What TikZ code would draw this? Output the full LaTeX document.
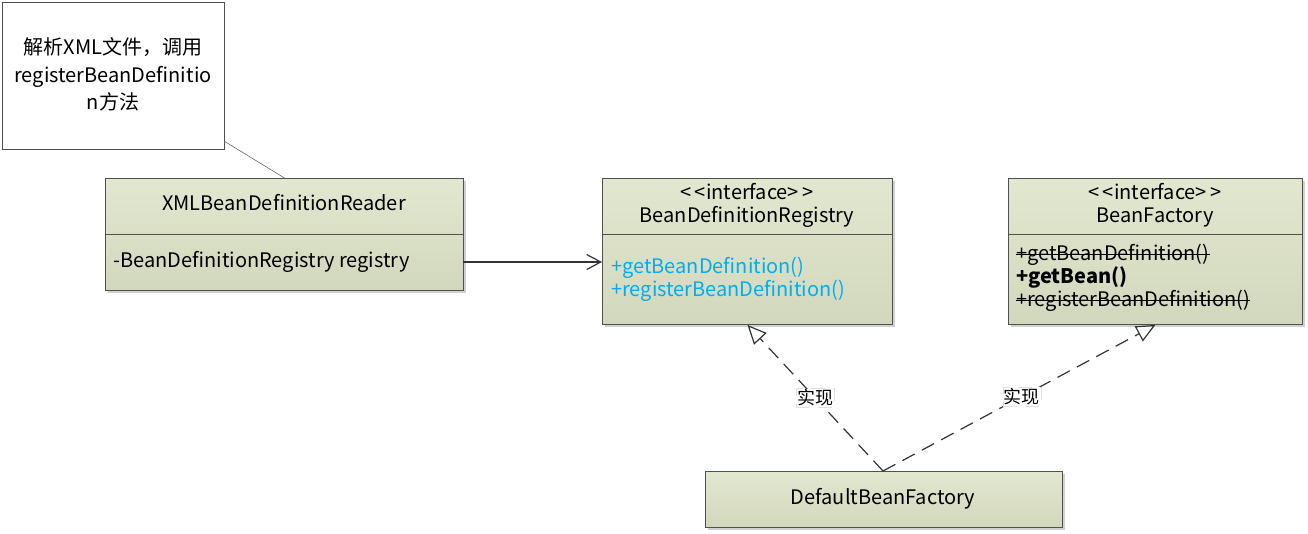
\documentclass[tikz,border=0pt]{standalone}
\usepackage{fontspec}
\setmainfont{Noto Sans CJK SC}
\usetikzlibrary{arrows.meta,shadows}
\definecolor{clsfill}{RGB}{221,227,199}
\definecolor{clsline}{RGB}{80,80,80}
\definecolor{methcyan}{RGB}{0,174,239}
\newcommand{\stereo}{<\kern3pt<interface>\kern3pt>}
\tikzset{
  cls/.style={draw=clsline, line width=0.9pt, anchor=north west, inner sep=0pt,
    top color=clsfill!85!white, bottom color=clsfill!95!black,
    drop shadow={shadow xshift=2.5pt, shadow yshift=-2.5pt, fill=black!30, opacity=0.6}},
  notebox/.style={draw=clsline, line width=0.8pt, fill=white, anchor=north west, inner sep=0pt},
  txt/.style={font=\fontsize{20}{23}\selectfont, inner sep=0pt, anchor=base},
  ltxt/.style={font=\fontsize{20}{23}\selectfont, inner sep=0pt, anchor=base west},
  divider/.style={draw=clsline, line width=0.9pt},
  strike/.style={draw=black, line width=0.9pt},
  lbl/.style={font=\fontsize{18}{20}\selectfont, fill=white, draw=black!12, line width=0.5pt, inner sep=1pt},
  realize/.style={draw=black!80, line width=1.2pt, dash pattern=on 14pt off 8pt,
    -{Triangle[open, length=19pt, width=17pt, line width=1.2pt]}},
  assoc/.style={draw=black!80, line width=1.2pt, -{Straight Barb[length=14pt, width=15pt, line width=1.2pt]}},
}
\begin{document}
\begin{tikzpicture}[x=1pt,y=-1pt]
\useasboundingbox (0,0) rectangle (1308,534);
% note
\node[notebox, minimum width=222pt, minimum height=147pt] (note) at (2,2) {};
\node[txt] (n1) at (113,55) {解析XML文件，调用};
\node[txt] (n2) at (113,83) {registerBeanDefinitio};
\node[txt] (n3) at (113,110) {n方法};
% reader
\node[cls, minimum width=358pt, minimum height=112pt] (reader) at (105,178) {};
\draw[divider] (105,234) -- (463,234);
\node[txt] (rt) at (284,211) {XMLBeanDefinitionReader};
\node[ltxt] (ra) at (113,268) {-BeanDefinitionRegistry registry};
% registry
\node[cls, minimum width=290pt, minimum height=146pt] (reg) at (602,178) {};
\draw[divider] (602,234) -- (892,234);
\node[txt] (rg1) at (747,200) {\stereo};
\node[txt] (rg2) at (747,223) {BeanDefinitionRegistry};
\node[ltxt, text=methcyan] (rm1) at (611,274) {+getBeanDefinition()};
\node[ltxt, text=methcyan] (rm2) at (611,297) {+registerBeanDefinition()};
% bean factory
\node[cls, minimum width=294pt, minimum height=146pt] (bf) at (1008,178) {};
\draw[divider] (1008,234) -- (1302,234);
\node[txt] (bf1) at (1155,200) {\stereo};
\node[txt] (bf2) at (1155,223) {BeanFactory};
\node[ltxt] (bm1) at (1016,261) {+getBeanDefinition()};
\node[ltxt] (bm2) at (1016,284) {\textbf{+getBean()}};
\node[ltxt] (bm3) at (1016,307) {+registerBeanDefinition()};
\draw[strike] ([yshift=6.5pt]bm1.base west) -- ([yshift=6.5pt]bm1.base east);
\draw[strike] ([yshift=6.5pt]bm3.base west) -- ([yshift=6.5pt]bm3.base east);
% default bean factory
\node[cls, minimum width=357pt, minimum height=56pt] (dbf) at (705,471) {};
\node[txt] (dt) at (883,504) {DefaultBeanFactory};
% connectors
\coordinate (nanchor) at (224,141);
\draw[draw=black!60, line width=0.6pt] (nanchor) -- (reader.north);
\coordinate (rsrc) at (463,262);
\coordinate (rdst) at (602,262);
\draw[assoc] (rsrc) -- (rdst);
\coordinate (dtop) at (883,471);
\draw[realize] (dtop) -- node[lbl, pos=0.5] (l1) {实现} (reg.south);
\draw[realize] (dtop) -- node[lbl, pos=0.51] (l2) {实现} (bf.south);
\end{tikzpicture}
\end{document}
